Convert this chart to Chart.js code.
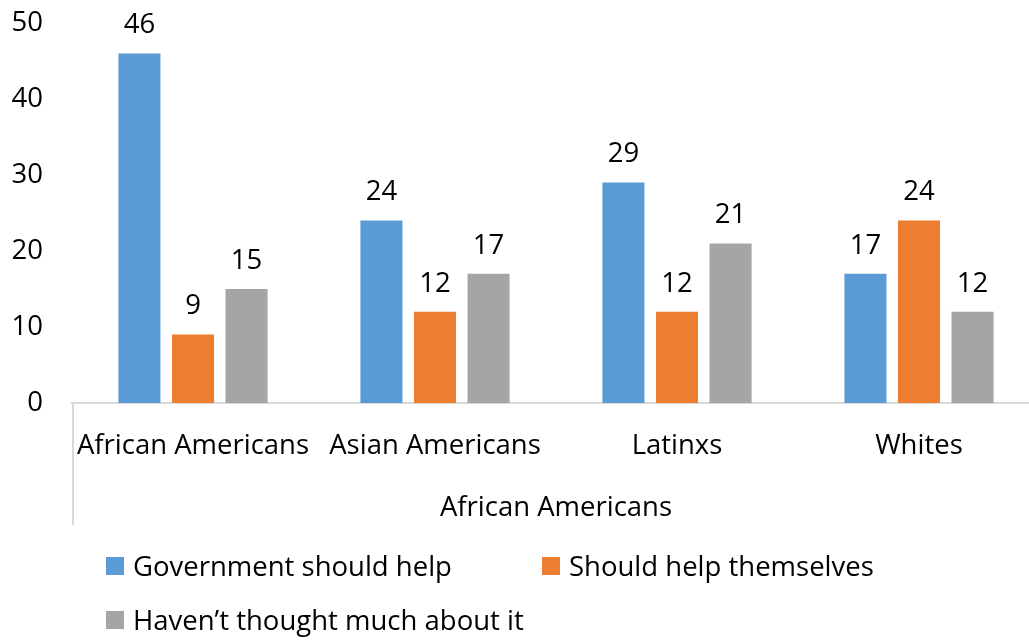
<!DOCTYPE html>
<html>
<head>
<meta charset="utf-8">
<script src="https://cdn.jsdelivr.net/npm/chart.js@4/dist/chart.umd.min.js"></script>
<style>
  html, body { margin: 0; padding: 0; background: #fff; overflow: hidden; }
  #wrap { width: 1029px; height: 640px; overflow: hidden; }
</style>
</head>
<body>
<div id="wrap"><canvas id="c" width="1040" height="640"></canvas></div>
<script>
const categories = ['African Americans', 'Asian Americans', 'Latinxs', 'Whites'];
const groupTitle = 'African Americans';
const seriesNames = ['Government should help', 'Should help themselves', 'Haven\u2019t thought much about it'];
const govHelp = [46, 24, 29, 17];
const helpThemselves = [9, 12, 12, 24];
const notThought = [15, 17, 21, 12];
const yTicks = [0, 10, 20, 30, 40, 50];

const FONT = '"Open Sans", sans-serif';
const FS = 27.5;
const AXIS_GRAY = '#d9d9d9';

// value labels above each bar
const valueLabels = {
  id: 'valueLabels',
  afterDatasetsDraw(chart) {
    const ctx = chart.ctx;
    ctx.save();
    ctx.font = FS + 'px ' + FONT;
    ctx.fillStyle = '#000';
    ctx.textAlign = 'center';
    ctx.textBaseline = 'middle';
    chart.data.datasets.forEach((ds, i) => {
      chart.getDatasetMeta(i).data.forEach((bar, j) => {
        ctx.fillText(String(ds.data[j]), bar.x, bar.y - 28);
      });
    });
    ctx.restore();
  }
};

// group divider, axis title and legend
const extras = {
  id: 'extras',
  afterDraw(chart) {
    const ctx = chart.ctx;
    const a = chart.chartArea;
    ctx.save();
    ctx.strokeStyle = AXIS_GRAY;
    ctx.lineWidth = 2;
    ctx.beginPath();
    ctx.moveTo(a.left + 1, a.bottom);
    ctx.lineTo(a.left + 1, a.bottom + 122);
    ctx.stroke();

    ctx.font = FS + 'px ' + FONT;
    ctx.fillStyle = '#000';
    ctx.textAlign = 'center';
    ctx.textBaseline = 'middle';
    ctx.fillText(groupTitle, (a.left + a.right) / 2, 508);

    const items = [
      { x: 106, y: 566 },
      { x: 542, y: 566 },
      { x: 106, y: 620 }
    ];
    ctx.textAlign = 'left';
    chart.data.datasets.forEach((ds, i) => {
      const p = items[i];
      ctx.fillStyle = ds.backgroundColor;
      ctx.fillRect(p.x, p.y - 9, 18, 18);
      ctx.fillStyle = '#000';
      ctx.fillText(ds.label, p.x + 27, p.y + 2);
    });
    ctx.restore();
  }
};

new Chart(document.getElementById('c'), {
  type: 'bar',
  data: {
    labels: categories,
    datasets: [
      { label: seriesNames[0], data: govHelp, backgroundColor: '#5b9bd5' },
      { label: seriesNames[1], data: helpThemselves, backgroundColor: '#ed7d31' },
      { label: seriesNames[2], data: notThought, backgroundColor: '#a5a5a5' }
    ]
  },
  options: {
    responsive: false,
    animation: false,
    layout: { padding: { top: 23, left: 0, right: 0, bottom: 0 } },
    datasets: { bar: { categoryPercentage: 0.664, barPercentage: 0.785 } },
    plugins: { legend: { display: false }, tooltip: { enabled: false } },
    scales: {
      x: {
        grid: { display: false, drawTicks: false },
        border: { display: true, color: AXIS_GRAY, width: 2 },
        ticks: { color: '#000', font: { family: FONT, size: FS }, padding: 27, maxRotation: 0, autoSkip: false },
        afterFit(scale) { scale.height = 640 - 403; }
      },
      y: {
        min: 0, max: 50,
        grid: { display: false, drawTicks: false },
        border: { display: false },
        afterBuildTicks(scale) { scale.ticks = yTicks.map(v => ({ value: v })); },
        ticks: { color: '#000', font: { family: FONT, size: FS }, padding: 29 },
        afterFit(scale) {
          scale.width = 72;
          scale.paddingTop = 0;
          scale.paddingBottom = 0;
        }
      }
    }
  },
  plugins: [valueLabels, extras]
});
</script>
</body>
</html>
